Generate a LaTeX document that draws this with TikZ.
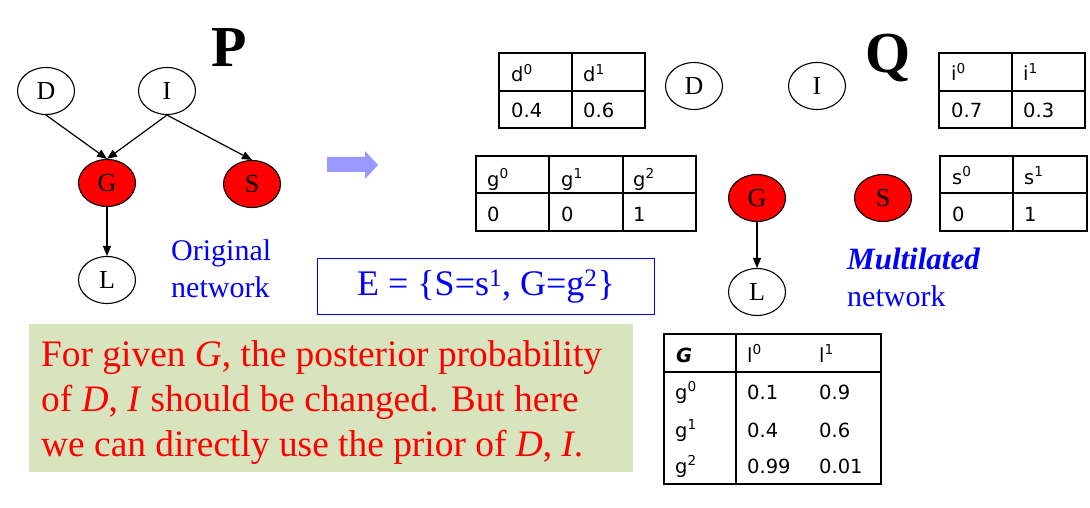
\documentclass[tikz,border=0pt]{standalone}
\usepackage{fontspec}
\setmainfont{Liberation Serif}
\newfontfamily\tabfont{DejaVu Sans}
\usetikzlibrary{shapes.geometric,arrows.meta}
\definecolor{boxgreen}{RGB}{215,228,189}
\definecolor{arrowblue}{RGB}{153,153,255}
\begin{document}
\begin{tikzpicture}[x=1pt,y=-1pt,
  ell/.style={draw, ellipse, line width=1.1pt, minimum width=57pt, minimum height=47pt, inner sep=0pt, font=\fontsize{26}{26}\selectfont},
  obs/.style={ell, fill=red},
  edge/.style={-{Triangle[length=10pt,width=8pt]}, line width=1.2pt},
  tabline/.style={line width=1.4pt},
  cell/.style={anchor=base west, inner sep=0pt, font=\tabfont\fontsize{19.5}{20}\selectfont},
  lbl/.style={anchor=base west, inner sep=0pt, text=blue, font=\fontsize{30}{30}\selectfont},
  big/.style={anchor=base west, inner sep=0pt, font=\bfseries\fontsize{58}{58}\selectfont},
  note/.style={anchor=base west, inner sep=0pt, text=red, font=\fontsize{37.4}{37.4}\selectfont}
]
\useasboundingbox (0,0) rectangle (1090,508);

% ---------- original network ----------
\node[big] (P) at (211,67) {P};
\node[ell] (D) at (46,91) {D};
\node[ell] (I) at (167,91) {I};
\node[obs] (G) at (107,183) {G};
\node[obs] (S) at (252,184) {S};
\node[ell] (L) at (107,280) {L};
\draw[edge] (D.south) -- (G.north);
\draw[edge] (I.south) -- (G.north);
\draw[edge] (I.south) -- (S.north);
\draw[edge] (G.south) -- (L.north);
\node[lbl] (orig1) at (171,260) {Original};
\node[lbl] (orig2) at (171,297) {network};

% ---------- block arrow ----------
\fill[arrowblue] (327,157) -- (365,157) -- (365,151) -- (378,165) -- (365,179) -- (365,172) -- (327,172) -- cycle;

% ---------- evidence box ----------
\node[draw=blue, line width=1.4pt, minimum width=337pt, minimum height=56pt, inner sep=0pt,
      text=blue, font=\fontsize{36}{36}\selectfont] (ebox) at (486,286.5)
      {E = \{S=s\textsuperscript{1}, G=g\textsuperscript{2}\}};

% ---------- multilated network ----------
\node[big, anchor=base] (Q) at (888,73) {Q};
\node[ell] (D2) at (694,86) {D};
\node[ell] (I2) at (817,86) {I};
\node[obs] (G2) at (757,198) {G};
\node[obs] (S2) at (883,198) {S};
\node[ell] (L2) at (757,292) {L};
\draw[edge] (G2.south) -- (L2.north);
\node[lbl, font=\bfseries\itshape\fontsize{31}{31}\selectfont] (mult1) at (847,269) {Multilated};
\node[lbl] (mult2) at (847,306) {network};

% ---------- d table ----------
\draw[tabline] (499,53) rectangle (645,128);
\draw[tabline] (572,53) -- (572,128);
\draw[tabline] (499,91) -- (645,91);
\node[cell] (d0) at (511,82) {d\textsuperscript{0}};
\node[cell] (d1) at (583,82) {d\textsuperscript{1}};
\node[cell] (dv0) at (511,118) {0.4};
\node[cell] (dv1) at (583,118) {0.6};

% ---------- i table ----------
\draw[tabline] (939,53) rectangle (1085,128);
\draw[tabline] (1012,53) -- (1012,128);
\draw[tabline] (939,91) -- (1085,91);
\node[cell] (i0) at (951,81) {i\textsuperscript{0}};
\node[cell] (i1) at (1023,81) {i\textsuperscript{1}};
\node[cell] (iv0) at (951,118) {0.7};
\node[cell] (iv1) at (1023,118) {0.3};

% ---------- g table ----------
\draw[tabline] (476,156) rectangle (696,231);
\draw[tabline] (549,156) -- (549,231);
\draw[tabline] (623,156) -- (623,231);
\draw[tabline] (476,193) -- (696,193);
\node[cell] (g0) at (487,186) {g\textsuperscript{0}};
\node[cell] (g1) at (561,186) {g\textsuperscript{1}};
\node[cell] (g2) at (633,186) {g\textsuperscript{2}};
\node[cell] (gv0) at (487,222) {0};
\node[cell] (gv1) at (561,222) {0};
\node[cell] (gv2) at (633,222) {1};

% ---------- s table ----------
\draw[tabline] (940,156) rectangle (1087,231);
\draw[tabline] (1013,156) -- (1013,231);
\draw[tabline] (940,193) -- (1087,193);
\node[cell] (s0) at (952,184) {s\textsuperscript{0}};
\node[cell] (s1) at (1024,184) {s\textsuperscript{1}};
\node[cell] (sv0) at (952,222) {0};
\node[cell] (sv1) at (1024,222) {1};

% ---------- l table ----------
\draw[tabline] (664,334) rectangle (881,484);
\draw[tabline] (736,334) -- (736,484);
\draw[tabline] (664,372) -- (881,372);
\node[cell, font=\tabfont\bfseries\itshape\fontsize{19.5}{20}\selectfont] (lh) at (676,362) {G};
\node[cell] (l0) at (747,362) {l\textsuperscript{0}};
\node[cell] (l1) at (819,362) {l\textsuperscript{1}};
\node[cell] (r0) at (675,399) {g\textsuperscript{0}};
\node[cell] (r1) at (675,437) {g\textsuperscript{1}};
\node[cell] (r2) at (675,473) {g\textsuperscript{2}};
\node[cell] (a0) at (747,399) {0.1};
\node[cell] (b0) at (819,399) {0.9};
\node[cell] (a1) at (747,437) {0.4};
\node[cell] (b1) at (819,437) {0.6};
\node[cell] (a2) at (747,473) {0.99};
\node[cell] (b2) at (819,473) {0.01};

% ---------- note box ----------
\fill[boxgreen] (29,324) rectangle (633,472);
\node[note] (n1) at (41,366) {For given \textit{G}, the posterior probability};
\node[note] (n2) at (41,411) {of \textit{D}, \textit{I} should be changed. But here};
\node[note] (n3) at (41,456) {we can directly use the prior of \textit{D}, \textit{I}.};
\end{tikzpicture}
\end{document}
